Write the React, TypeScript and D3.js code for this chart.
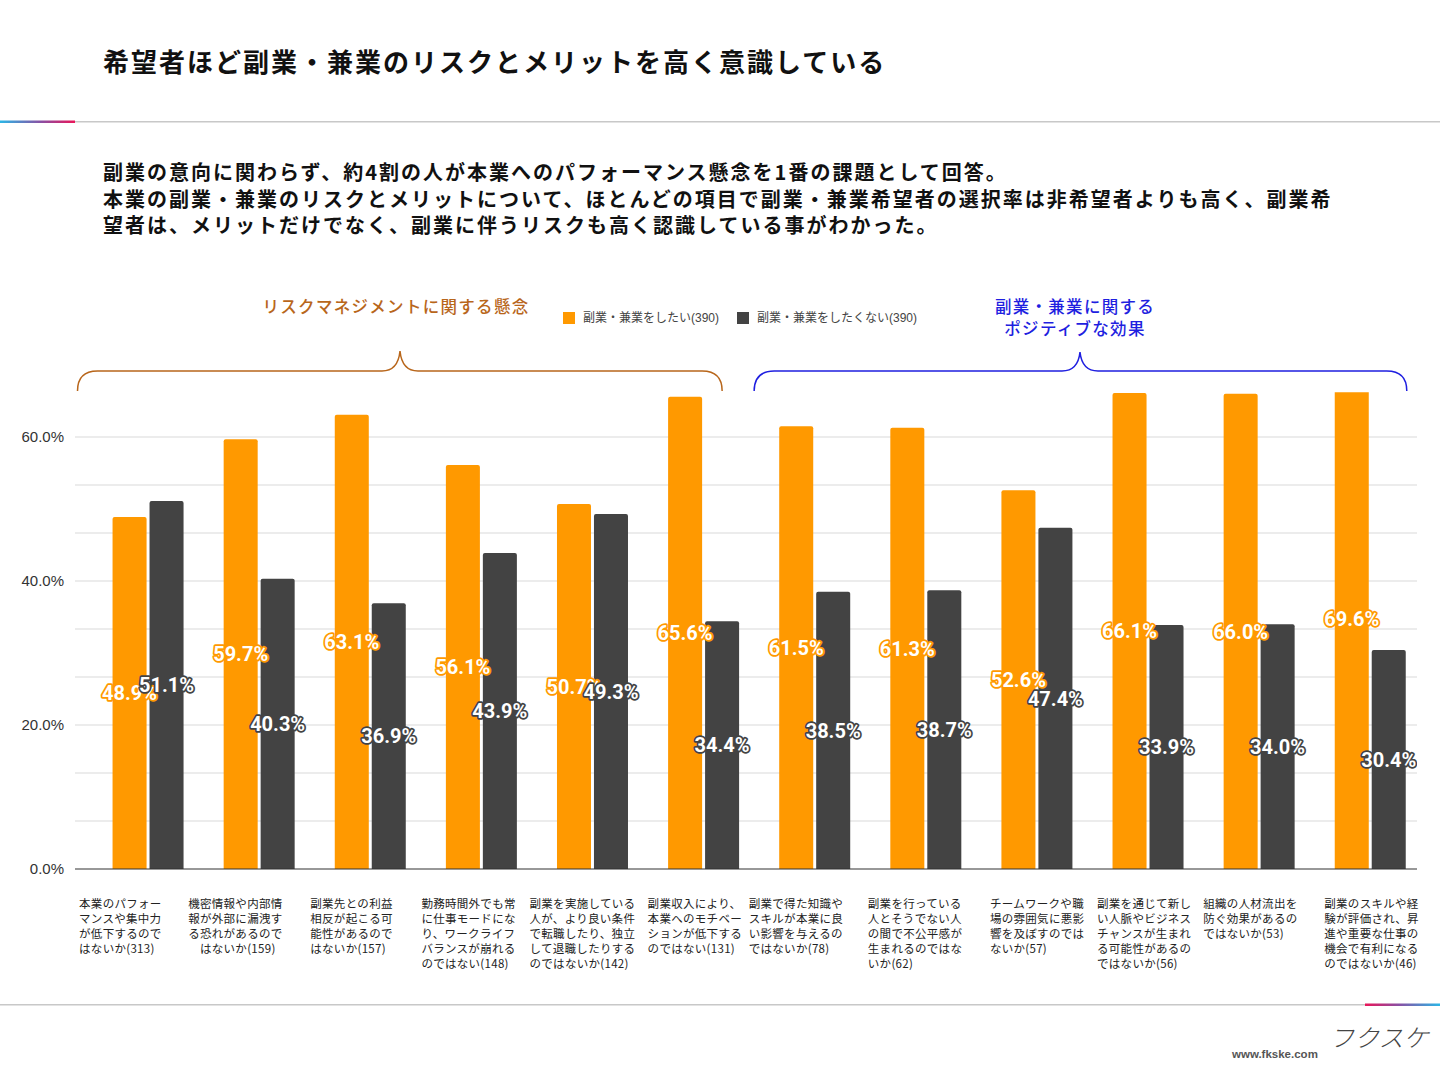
import React from 'react';
import * as d3 from 'd3';

// values (percent)
const wantValues = [48.9, 59.7, 63.1, 56.1, 50.7, 65.6, 61.5, 61.3, 52.6, 66.1, 66.0, 69.6];
const notWantValues = [51.1, 40.3, 36.9, 43.9, 49.3, 34.4, 38.5, 38.7, 47.4, 33.9, 34.0, 30.4];

const seriesNames = ['副業・兼業をしたい(390)', '副業・兼業をしたくない(390)'];
const seriesColors = ['#FF9900', '#434343'];

const categoryLines = [
  ['本業のパフォー', 'マンスや集中力', 'が低下するので', 'はないか(313)'],
  ['機密情報や内部情', '報が外部に漏洩す', 'る恐れがあるので', '　はないか(159)'],
  ['副業先との利益', '相反が起こる可', '能性があるので', 'はないか(157)'],
  ['勤務時間外でも常', 'に仕事モードにな', 'り、ワークライフ', 'バランスが崩れる', 'のではない(148)'],
  ['副業を実施している', '人が、より良い条件', 'で転職したり、独立', 'して退職したりする', 'のではないか(142)'],
  ['副業収入により、', '本業へのモチベー', 'ションが低下する', 'のではない(131)'],
  ['副業で得た知識や', 'スキルが本業に良', 'い影響を与えるの', 'ではないか(78)'],
  ['副業を行っている', '人とそうでない人', 'の間で不公平感が', '生まれるのではな', 'いか(62)'],
  ['チームワークや職', '場の雰囲気に悪影', '響を及ぼすのでは', 'ないか(57)'],
  ['副業を通じて新し', 'い人脈やビジネス', 'チャンスが生まれ', 'る可能性があるの', 'ではないか(56)'],
  ['組織の人材流出を', '防ぐ効果があるの', 'ではないか(53)'],
  ['副業のスキルや経', '験が評価され、昇', '進や重要な仕事の', '機会で有利になる', 'のではないか(46)'],
];

const yTickLabels = ['0.0%', '20.0%', '40.0%', '60.0%'];

const titleText = '希望者ほど副業・兼業のリスクとメリットを高く意識している';
const subtitleLines = [
  '副業の意向に関わらず、約4割の人が本業へのパフォーマンス懸念を1番の課題として回答。',
  '本業の副業・兼業のリスクとメリットについて、ほとんどの項目で副業・兼業希望者の選択率は非希望者よりも高く、副業希',
  '望者は、メリットだけでなく、副業に伴うリスクも高く認識している事がわかった。',
];
const riskLabel = 'リスクマネジメントに関する懸念';
const positiveLabel = ['副業・兼業に関する', 'ポジティブな効果'];

// layout: label boxes are not centred exactly under groups in the original
const labelNudge = [-69, -71, -60, -60, -63, -56, -66, -58, -47, -51, -56, -46];

const W = 1440;
const H = 1080;
const plotLeft = 75;
const plotRight = 1417;
const baseY = 869;

const jp = '"Noto Sans CJK JP", sans-serif';

const braceFor = (x0: number, x1: number, xm: number, yLine: number, yEnd: number, yTip: number) => {
  const p = d3.path();
  p.moveTo(x0, yEnd);
  p.quadraticCurveTo(x0, yLine, x0 + 20, yLine);
  p.lineTo(xm - 18, yLine);
  p.quadraticCurveTo(xm - 2, yLine, xm, yTip);
  p.quadraticCurveTo(xm + 2, yLine, xm + 18, yLine);
  p.lineTo(x1 - 20, yLine);
  p.quadraticCurveTo(x1, yLine, x1, yEnd);
  return p.toString();
};

const topRounded = (x: number, y: number, w: number, h: number, r: number) => {
  const p = d3.path();
  p.moveTo(x, y + h);
  p.lineTo(x, y + r);
  p.quadraticCurveTo(x, y, x + r, y);
  p.lineTo(x + w - r, y);
  p.quadraticCurveTo(x + w, y, x + w, y + r);
  p.lineTo(x + w, y + h);
  p.closePath();
  return p.toString();
};

export default function App() {
  const idx = categoryLines.map((_, i) => i);
  const x0 = d3.scaleBand<number>().domain(idx).range([92.5, 1425.8]).padding(0);
  const y = d3.scaleLinear().domain([0, 66.2]).range([baseY, baseY - 66.2 * 7.2]);
  const x1 = d3.scaleBand<number>().domain([0, 1]).range([0, 71]).paddingInner(0.08);
  const pairOffset = (x0.bandwidth() - 71) / 2;

  const gridVals = d3.range(0, 10).map((k) => (k * 20) / 3);
  const series = [wantValues, notWantValues];

  const clipTop = y(66.2);

  const riskX0 = (x0(0) as number) - 15;
  const riskX1 = (x0(5) as number) + x0.bandwidth() - 37;
  const posX0 = (x0(6) as number) - 5;
  const posX1 = (x0(11) as number) + x0.bandwidth() - 19;

  return (
    <div style={{ position: 'absolute', left: 0, top: 0 }}>
      <svg width={W} height={H} viewBox={`0 0 ${W} ${H}`} style={{ display: 'block', background: '#fff' }}>
        <defs>
          <linearGradient id="topGrad" x1="0" x2="1" y1="0" y2="0">
            <stop offset="0%" stopColor="#2bb6e6" />
            <stop offset="55%" stopColor="#8a4fa3" />
            <stop offset="100%" stopColor="#ea1559" />
          </linearGradient>
          <linearGradient id="botGrad" x1="0" x2="1" y1="0" y2="0">
            <stop offset="0%" stopColor="#ea1559" />
            <stop offset="45%" stopColor="#8a4fa3" />
            <stop offset="100%" stopColor="#2bb6e6" />
          </linearGradient>
          <clipPath id="plotClip">
            <rect x={plotLeft} y={clipTop} width={plotRight - plotLeft} height={baseY - clipTop + 40} />
          </clipPath>
        </defs>

        {/* header */}
        <text x={103} y={72} fontFamily={jp} fontWeight={700} fontSize={26} letterSpacing={2} fill="#111">
          {titleText}
        </text>
        <rect x={0} y={121} width={W} height={1.5} fill="#c8c8c8" />
        <rect x={0} y={120.5} width={75} height={2.5} fill="url(#topGrad)" />

        {subtitleLines.map((t, i) => (
          <text key={i} x={103} y={180 + i * 26.5} fontFamily={jp} fontWeight={700} fontSize={20} letterSpacing={2} fill="#111">
            {t}
          </text>
        ))}

        {/* group annotations */}
        <text x={396} y={313} textAnchor="middle" fontFamily={jp} fontWeight={500} fontSize={16.5} letterSpacing={1.3} fill="#B8661B">
          {riskLabel}
        </text>
        {positiveLabel.map((t, i) => (
          <text key={i} x={1075} y={313 + i * 22} textAnchor="middle" fontFamily={jp} fontWeight={500} fontSize={16.5} letterSpacing={1.3} fill="#1F1FE0">
            {t}
          </text>
        ))}
        <path d={braceFor(riskX0, riskX1, 400, 371, 391, 351)} fill="none" stroke="#B8661B" strokeWidth={1.5} />
        <path d={braceFor(posX0, posX1, 1080, 371, 391, 352)} fill="none" stroke="#1F1FE0" strokeWidth={1.5} />

        {/* legend */}
        {seriesNames.map((name, i) => {
          const lx = i === 0 ? 563 : 737;
          return (
            <g key={name}>
              <rect x={lx} y={312} width={12} height={12} fill={seriesColors[i]} />
              <text x={lx + 20} y={322} fontFamily={'"Liberation Sans", "Noto Sans CJK JP", sans-serif'} fontSize={12} fill="#444">
                {name}
              </text>
            </g>
          );
        })}

        {/* grid */}
        {gridVals.map((v, i) =>
          i === 0 ? null : (
            <line key={i} x1={plotLeft} x2={plotRight} y1={y(v)} y2={y(v)} stroke="#d9d9d9" strokeWidth={1} />
          )
        )}
        {yTickLabels.map((t, i) => (
          <text key={t} x={64} y={y(i * 20)} dy="0.35em" textAnchor="end" fontFamily={'"Liberation Sans", Arial, sans-serif'} fontSize={15} fill="#333">
            {t}
          </text>
        ))}

        {/* bars */}
        <g clipPath="url(#plotClip)">
          {series.map((vals, s) =>
            vals.map((v, i) => {
              const bx = (x0(i) as number) + pairOffset + (x1(s) as number);
              const top = y(v);
              return <path key={`${s}-${i}`} d={topRounded(bx, top, x1.bandwidth(), baseY - top, 2)} fill={seriesColors[s]} />;
            })
          )}
        </g>
        <line x1={plotLeft} x2={plotRight} y1={baseY} y2={baseY} stroke="#333" strokeWidth={1.2} />

        {/* data labels */}
        <g clipPath="url(#plotClip)">
          {series.map((vals, s) =>
            vals.map((v, i) => {
              const cx = (x0(i) as number) + pairOffset + (x1(s) as number) + x1.bandwidth() / 2;
              const cy = (y(v) + baseY) / 2;
              return (
                <text
                  key={`l${s}-${i}`}
                  x={cx}
                  y={cy}
                  dy="0.36em"
                  textAnchor="middle"
                  fontFamily="Roboto, sans-serif"
                  fontWeight={700}
                  fontSize={20}
                  fill="#fff"
                  stroke={seriesColors[s]}
                  strokeWidth={3.5}
                  strokeLinejoin="round"
                  paintOrder="stroke"
                >
                  {`${v.toFixed(1)}%`}
                </text>
              );
            })
          )}
        </g>

        {/* category labels */}
        {categoryLines.map((lines, i) => {
          const cx = (x0(i) as number) + x0.bandwidth() / 2;
          return (
            <g key={`c${i}`}>
              {lines.map((ln, j) => (
                <text key={j} x={cx + labelNudge[i]} y={908 + j * 15} fontFamily={jp} fontSize={11.5} letterSpacing={0.3} fill="#222">
                  {ln}
                </text>
              ))}
            </g>
          );
        })}

        {/* footer */}
        <rect x={0} y={1004} width={W} height={1.5} fill="#c8c8c8" />
        <rect x={1365} y={1003.5} width={75} height={2.5} fill="url(#botGrad)" />
        <text x={1232} y={1058} fontFamily={'"Liberation Sans", Arial, sans-serif'} fontWeight={700} fontSize={11.5} fill="#555">
          www.fkske.com
        </text>
        <text x={1332} y={1047} fontFamily={jp} fontWeight={300} fontSize={25} fill="#444" transform="skewX(-14)" style={{ transformBox: 'fill-box', transformOrigin: 'center' }}>
          フクスケ
        </text>
      </svg>
    </div>
  );
}
